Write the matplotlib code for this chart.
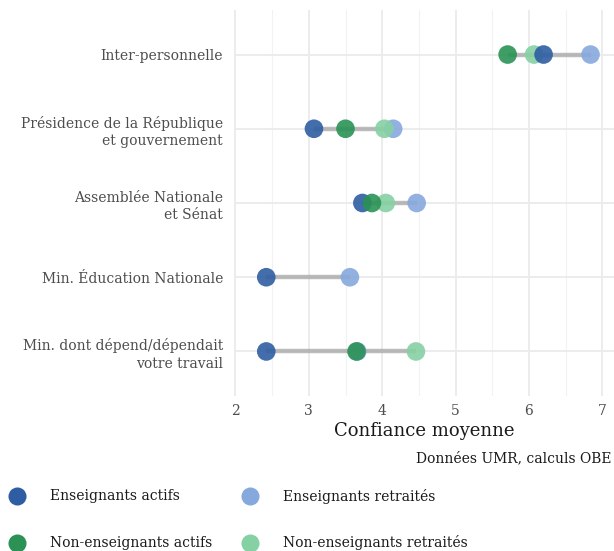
import numpy as np
import matplotlib
matplotlib.use("Agg")
import matplotlib.pyplot as plt
from matplotlib.lines import Line2D

plt.rcParams['font.family'] = ['DejaVu Serif']

# Categories, top to bottom
categories = ["Inter-personnelle",
              "Présidence de la République\net gouvernement",
              "Assemblée Nationale\net Sénat",
              "Min. Éducation Nationale",
              "Min. dont dépend/dépendait\nvotre travail"]

# Mean confidence per group (NaN = not asked)
ens_actifs = [6.20, 3.07, 3.73, 2.42, 2.42]
ens_retraites = [6.84, 4.15, 4.47, 3.56, 3.66]
nonens_actifs = [5.71, 3.50, 3.86, np.nan, 3.65]
nonens_retraites = [6.07, 4.03, 4.05, np.nan, 4.46]

series = [
    ("Enseignants retraités", ens_retraites, "#86a9dd"),
    ("Non-enseignants retraités", nonens_retraites, "#86d1a3"),
    ("Enseignants actifs", ens_actifs, "#2f5da3"),
    ("Non-enseignants actifs", nonens_actifs, "#2a9255"),
]

fig = plt.figure(figsize=(6.14, 5.51), dpi=100)
ax = fig.add_axes([234/614, 1 - 396/551, 380/614, 386/551])

y = np.arange(len(categories))[::-1]
allvals = np.array([ens_actifs, ens_retraites, nonens_actifs, nonens_retraites])
lo = np.nanmin(allvals, axis=0)
hi = np.nanmax(allvals, axis=0)
ax.hlines(y, lo, hi, color="#a0a0a0", alpha=0.7, linewidth=3.2, zorder=2)

for name, vals, col in series:
    ax.scatter(vals, y, s=180, color=col, alpha=0.9, edgecolors="none", zorder=3)

ax.set_xlim(1.98, 7.16)
ax.set_ylim(-0.6, len(categories) - 0.4)
ax.set_yticks(y)
ax.set_yticklabels(categories, fontsize=10, color="#4d4d4d", linespacing=1.3)
ax.set_xticks([2, 3, 4, 5, 6, 7])
ax.set_xticks([2.5, 3.5, 4.5, 5.5, 6.5], minor=True)
ax.tick_params(axis="x", labelsize=10, labelcolor="#4d4d4d", length=0, pad=6)
ax.tick_params(axis="y", length=0, pad=8)
ax.tick_params(which="minor", length=0)
ax.grid(True, which="major", color="#ebebeb", linewidth=1.3, zorder=0)
ax.grid(True, which="minor", axis="x", color="#f2f2f2", linewidth=0.8, zorder=0)
ax.set_axisbelow(True)
for s in ax.spines.values():
    s.set_visible(False)
ax.set_xlabel("Confiance moyenne", fontsize=13, color="#1a1a1a", labelpad=3)

fig.text(612/614, 1 - 458/551, "Données UMR, calculs OBE", ha="right", va="center",
         fontsize=10, color="#1a1a1a")

# Legend
legend_order = [("Enseignants actifs", "#2f5da3"), ("Enseignants retraités", "#86a9dd"),
                ("Non-enseignants actifs", "#2a9255"), ("Non-enseignants retraités", "#86d1a3")]
pos = [(17, 496), (250, 496), (17, 543), (250, 543)]
for (lab, col), (px, py) in zip(legend_order, pos):
    fig.add_artist(Line2D([px / 614], [1 - py / 551], marker="o", markersize=13,
                          color=col, markeredgewidth=0, linestyle="none",
                          transform=fig.transFigure))
    fig.text((px + 33) / 614, 1 - py / 551, lab, ha="left", va="center",
             fontsize=10, color="#1a1a1a")

fig.savefig("out.png", dpi=100)
